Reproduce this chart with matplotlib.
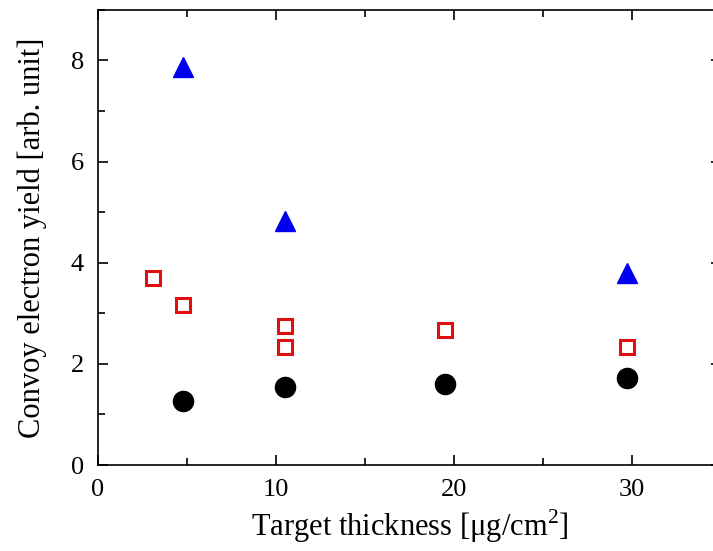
import matplotlib.pyplot as plt
from matplotlib.ticker import MultipleLocator

# thickness [ug/cm2] and yields
tri_x = [4.8, 10.5, 29.7]
tri_y = [7.88, 4.82, 3.8]

sq_x = [3.1, 4.8, 10.5, 10.5, 19.5, 29.7]
sq_y = [3.69, 3.16, 2.74, 2.33, 2.67, 2.33]

circ_x = [4.8, 10.5, 19.5, 29.7]
circ_y = [1.26, 1.54, 1.61, 1.72]

plt.rcParams['font.family'] = ['Liberation Serif', 'DejaVu Serif']
plt.rcParams['mathtext.fontset'] = 'custom'
plt.rcParams['mathtext.rm'] = 'Liberation Serif'

fig = plt.figure(figsize=(7.13, 5.51), dpi=100)
ax = fig.add_axes([0.1374, 0.156, 0.874, 0.826])

ax.plot(tri_x, tri_y, linestyle='none', marker='^', ms=15, color='#0000ee')
ax.plot(sq_x, sq_y, linestyle='none', marker='s', ms=10, mfc='none', mec='#e01010', mew=2.2)
ax.plot(circ_x, circ_y, linestyle='none', marker='o', ms=14.5, color='black')

ax.set_xlim(0, 35)
ax.set_ylim(0, 9)
ax.set_xticks([0, 10, 20, 30])
ax.set_yticks([0, 2, 4, 6, 8])
ax.xaxis.set_minor_locator(MultipleLocator(5))
ax.yaxis.set_minor_locator(MultipleLocator(1))
ax.tick_params(which='both', direction='in', top=True, right=True, width=1.2, labelsize=19)
ax.tick_params(which='major', length=7, pad=10)
ax.tick_params(which='minor', length=5)
for s in ax.spines.values():
    s.set_linewidth(1.2)

ax.set_xlabel('Target thickness [μg/cm$^{\\mathrm{2}}$]', fontsize=22, labelpad=5)
ax.set_ylabel('Convoy electron yield [arb. unit]', fontsize=22, labelpad=17)

fig.savefig('out.png', dpi=100)
